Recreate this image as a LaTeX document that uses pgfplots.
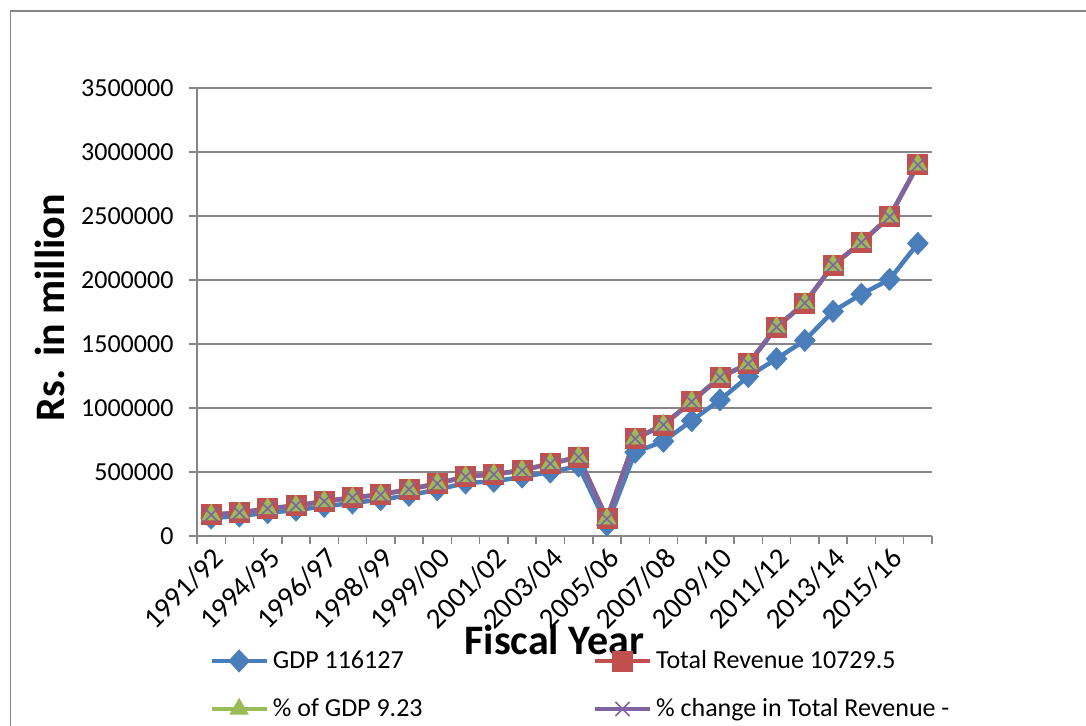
\documentclass[border=0pt]{standalone}
\usepackage{pgfplots}
\pgfplotsset{compat=1.18}
\usepackage{pgfplotstable}
\usepackage{fontspec}
\setmainfont{Carlito}
\definecolor{gdpblue}{RGB}{74,126,187}
\definecolor{revred}{RGB}{192,80,77}
\definecolor{pctgreen}{RGB}{155,187,89}
\definecolor{chgpurple}{RGB}{128,100,162}
\definecolor{gridgray}{RGB}{134,134,134}

\pgfplotstableread{
idx gdp rev
0 140000 166000
1 156000 182000
2 182000 214000
3 202000 237000
4 232000 271000
5 258000 300000
6 284000 323000
7 318000 365000
8 362000 409000
9 414000 464000
10 427000 482000
11 461000 513000
12 500000 566000
13 547000 617000
14 85000 134000
15 655000 760000
16 740000 868000
17 901000 1050000
18 1063000 1240000
19 1246000 1345000
20 1385000 1632000
21 1528000 1820000
22 1755000 2116000
23 1889000 2294000
24 2004000 2494000
25 2286000 2900000
}\data

\begin{document}
\begin{tikzpicture}
\useasboundingbox (0,0) rectangle (543pt,362.5pt);
\draw[gridgray, line width=0.75pt] (5.25pt,-2pt) -- (5.25pt,357pt) -- (546pt,357pt);
\begin{axis}[
  at={(98.5pt,94.5pt)}, anchor=south west,
  scale only axis, width=367.5pt, height=224pt,
  xmin=-0.5, xmax=25.5, ymin=0, ymax=3500000,
  axis x line*=bottom, axis y line*=left,
  axis line style={gridgray, line width=0.75pt, -},
  x axis line style={-}, y axis line style={-},
  tick align=outside, major tick length=3.75pt,
  tick style={gridgray, line width=0.75pt},
  ytick={0,500000,...,3500000},
  ymajorgrids, grid style={gridgray, line width=0.75pt},
  scaled y ticks=false,
  /pgf/number format/assume math mode=true,
  yticklabel style={font=\fontsize{13}{15.5}\selectfont, xshift=-4.5pt, /pgf/number format/fixed, /pgf/number format/1000 sep={}},
  xtick={-0.5,0.5,...,25.5},
  xticklabels={,,,,,,,,,,,,,,,,,,,,,,,,,,},
  extra x ticks={0,2,...,24},
  extra x tick labels={1991/92,1994/95,1996/97,1998/99,1999/00,2001/02,2003/04,2005/06,2007/08,2009/10,2011/12,2013/14,2015/16},
  extra x tick style={major tick length=0pt, grid=none},
  xticklabel style={rotate=45, anchor=north east, font=\fontsize{14.5}{17}\selectfont},
  xlabel={Fiscal Year},
  xlabel style={at={(axis description cs:0.486,-0.232)}, anchor=center, font=\bfseries\fontsize{21}{25}\selectfont},
  ylabel={Rs. in million},
  ylabel style={at={(axis description cs:-0.2,0.51)}, anchor=center, font=\bfseries\fontsize{21}{25}\selectfont},
  legend columns=2,
  legend cell align=left,
  legend style={at={(axis description cs:0.0163,-0.2455)}, anchor=north west, draw=none, fill=none, inner sep=0pt,
    font=\fontsize{13}{15.6}\selectfont, row sep=9.5pt,
    /tikz/every even column/.append style={column sep=83pt}},
  legend image code/.code={\draw[mark repeat=2,mark phase=2] plot coordinates {(0pt,0pt) (13.75pt,0pt) (27.5pt,0pt)};},
]
\addplot[color=gdpblue, line width=2.25pt, mark=diamond*, mark size=5.5pt, mark options={solid, fill=gdpblue, draw=gdpblue, line width=0.4pt, xscale=1.25}] table[x=idx, y=gdp] {\data};
\addlegendentry{GDP 116127}
\addplot[color=revred, line width=2.25pt, mark=square*, mark size=5pt, mark options={solid, fill=revred, draw=revred, line width=0.4pt}] table[x=idx, y=rev] {\data};
\addlegendentry{Total Revenue 10729.5}
\addplot[color=pctgreen, line width=2.25pt, mark=triangle*, mark size=5.2pt, mark options={solid, fill=pctgreen, draw=pctgreen, line width=0.4pt}] table[x=idx, y=rev] {\data};
\addlegendentry{\% of GDP 9.23}
\addplot[color=chgpurple, line width=2.25pt, mark=x, mark size=5pt, mark options={solid, draw=chgpurple, line width=0.8pt}] table[x=idx, y=rev] {\data};
\addlegendentry{\% change in Total Revenue -}
\end{axis}
\end{tikzpicture}
\end{document}
